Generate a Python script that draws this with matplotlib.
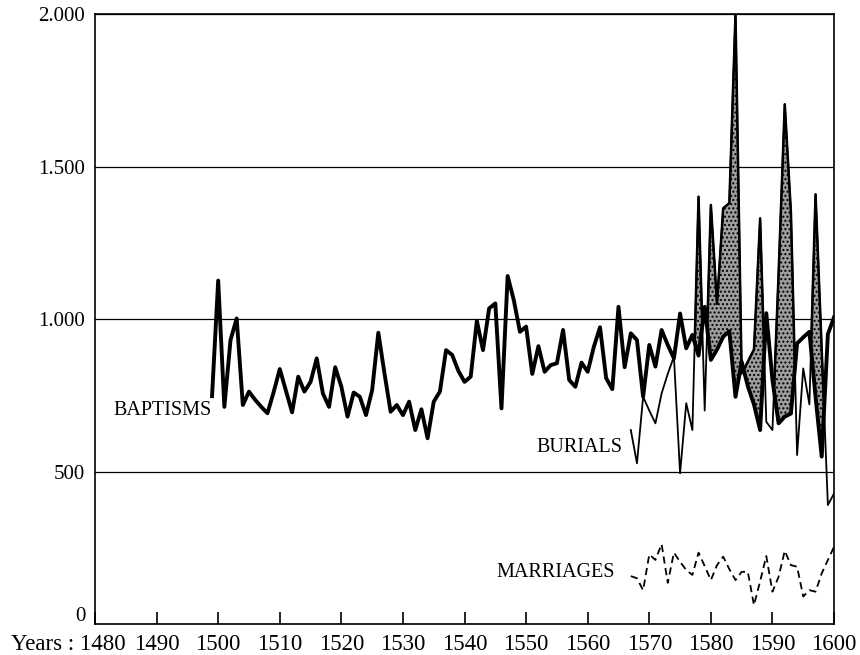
import numpy as np
import matplotlib
matplotlib.use('Agg')
import matplotlib.pyplot as plt
from matplotlib.transforms import ScaledTranslation

plt.rcParams['font.family'] = ['Liberation Serif', 'DejaVu Serif']

# annual baptisms 1499-1600
bap_years = np.arange(1499, 1601)
baptisms = [747, 1126, 712, 931, 1002, 718, 762, 735, 712, 691,
            760, 836, 765, 694, 811, 762, 794, 871, 756, 712,
            842, 778, 680, 759, 745, 685, 767, 955, 822, 696,
            718, 685, 729, 636, 704, 609, 729, 762, 898, 882,
            830, 794, 811, 994, 898, 1035, 1051, 707, 1141, 1062,
            958, 975, 820, 911, 827, 849, 855, 964, 800, 778,
            857, 827, 909, 973, 806, 770, 1040, 842, 953, 931,
            745, 915, 844, 964, 915, 871, 1018, 904, 948, 880,
            1040, 866, 900, 942, 960, 745, 860, 780, 720, 636,
            1019, 800, 658, 680, 690, 920, 940, 958, 745, 549,
            950, 1006]

# burials and marriages 1567-1600
late_years = np.arange(1567, 1601)
burials = [636, 527, 745, 700, 658, 756, 820, 877, 494, 724,
           636, 1401, 700, 1374, 1050, 1363, 1380, 2000, 820, 860,
           900, 1330, 663, 636, 1150, 1704, 1350, 554, 838, 720,
           1409, 900, 390, 428]
marriages = [157, 150, 111, 228, 210, 262, 135, 234, 204, 177,
             161, 234, 190, 144, 193, 221, 180, 144, 171, 171,
             62, 140, 223, 106, 155, 240, 193, 188, 90, 111,
             106, 166, 210, 253]

x_ticks = list(range(1480, 1601, 10))
x_labels = [''] + [str(y) for y in x_ticks[1:]]
y_ticks = [0, 500, 1000, 1500, 2000]
y_labels = ['0', '500', '1.000', '1.500', '2.000']

fig = plt.figure(figsize=(8.6, 6.55), dpi=100)
ax = fig.add_axes([0.1105, 0.0473, 0.8593, 0.9313])

ax.set_xlim(1480, 1600)
ax.set_ylim(0, 2000)

# grid every 20 years / 500
ax.set_xticks(range(1500, 1600, 20), minor=True)
ax.grid(which='minor', axis='x', color='black', linewidth=0.9)
ax.set_yticks(y_ticks)
ax.set_yticklabels(y_labels)
ax.grid(which='major', axis='y', color='black', linewidth=0.9)
ax.set_axisbelow(True)

ax.set_xticks(x_ticks)
ax.set_xticklabels(x_labels)
ax.tick_params(axis='x', which='major', direction='in', length=8.5,
               width=1.2, labelsize=16.5, pad=7)
ax.tick_params(axis='x', which='minor', length=0)
ax.tick_params(axis='y', length=0, labelsize=15, pad=7)
for s in ax.spines.values():
    s.set_linewidth(1.2)

# the zero label sits a little above the axis line
zero_lab = ax.get_yticklabels()[0]
zero_lab.set_transform(zero_lab.get_transform() +
                       ScaledTranslation(0, 7 / 72, fig.dpi_scale_trans))

bap = np.array(baptisms, dtype=float)
bur = np.array(burials, dtype=float)
bap_late = bap[bap_years >= late_years[0]]

ax.fill_between(late_years, bap_late, bur, where=bur > bap_late,
                interpolate=True, facecolor='#9e9e9e', edgecolor='black',
                linewidth=1.8, hatch='....', zorder=2)
ax.plot(bap_years, bap, color='black', linewidth=2.8, zorder=3)
ax.plot(late_years, bur, color='black', linewidth=1.3, zorder=4)
ax.plot(late_years, marriages, color='black', linewidth=1.3,
        linestyle=(0, (4, 2.5)), zorder=4)

ax.text(1499, 700, 'BAPTISMS', ha='right', va='center', fontsize=14.5)
ax.text(1565.6, 580, 'BURIALS', ha='right', va='center', fontsize=14.5)
ax.text(1564.4, 170, 'MARRIAGES', ha='right', va='center', fontsize=14.5)

ax.annotate('Years : 1480', xy=(1480, 0), xycoords=('data', 'axes fraction'),
            xytext=(22, -7), textcoords='offset points', ha='right', va='top',
            fontsize=16.5)

fig.savefig('out.png', dpi=100)
